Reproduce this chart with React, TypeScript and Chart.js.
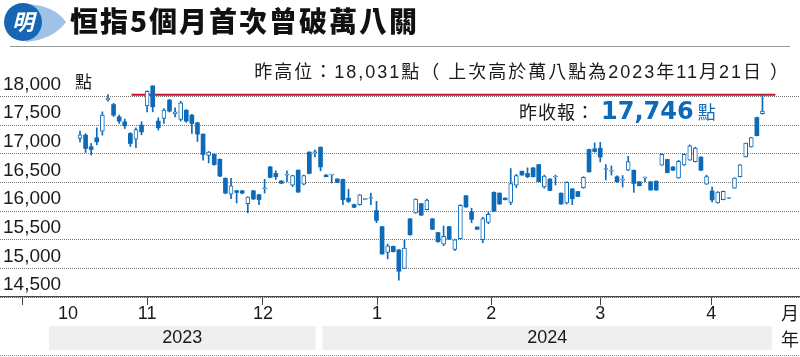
import React, { useEffect, useRef } from 'react';
import { Chart, registerables } from 'chart.js';

Chart.register(...registerables);

// Trading days from 30 Oct 2023 (index 0) to 29 Apr 2024 (index 122)
const opens = [
  17270, 17326, 17122, 17279, 17395, 17940, 17859, 17645, 17558, 17354,
  17256, 17500, 17836, 18185, 17570, 17615, 17936, 17700, 17600, 17761,
  17674, 17540, 17343, 16971, 16989, 16903, 16571, 16297, 16354, 16354,
  16130, 16354, 16285, 16390, 16771, 16657, 16525, 16625, 16450, 16714,
  16470, 17029, 17020, 17114, 16628, 16630, 16560, 16553, 16225, 16112,
  16112, 16205, 16220, 16009, 15728, 15280, 15384, 15321, 15000, 15865,
  15969, 16129, 16026, 15865, 15625, 15420, 15728, 15330, 15520, 16267,
  15986, 15722, 15500, 15800, 16327, 16312, 16226, 16150, 16450, 16696,
  16656, 16754, 16811, 16420, 16559, 16595, 16312, 16140, 16387, 16341,
  16410, 17074, 17086, 17097, 16725, 16695, 16599, 16538, 16712, 16712,
  16511, 16575, 16511, 16522, 16800, 16902, 16770, 16580, 16805, 16890,
  16860, 16942, 16470, 16350, 16140, 16200, 16220, 16400, 16600, 16945,
  17118, 17632, 17700,
];
const highs = [
  17396, 17350, 17180, 17453, 17732, 18033, 17880, 17674, 17605, 17370,
  17453, 17560, 18100, 18185, 17627, 17789, 17950, 17801, 17918, 17770,
  17690, 17550, 17350, 17040, 17000, 16910, 16580, 16571, 16360, 16360,
  16250, 16360, 16290, 16554, 16780, 16703, 16530, 16703, 16628, 16720,
  16628, 17035, 17069, 17120, 16635, 16640, 16565, 16560, 16381, 16120,
  16290, 16215, 16312, 16169, 15735, 15424, 15390, 15330, 15499, 15870,
  16215, 16135, 16209, 15870, 15630, 15739, 15735, 15510, 16112, 16275,
  16050, 15725, 15893, 15980, 16335, 16320, 16230, 16742, 16639, 16700,
  16754, 16760, 16815, 16628, 16565, 16628, 16318, 16513, 16392, 16345,
  16599, 17080, 17189, 17200, 16811, 16788, 16615, 16620, 16954, 16718,
  16515, 16597, 16515, 16525, 17000, 16905, 16775, 16885, 17000, 17155,
  17115, 16945, 16626, 16420, 16339, 16350, 16230, 16580, 16810, 17189,
  17287, 17640, 18031,
];
const lows = [
  17209, 17023, 16978, 17157, 17326, 17918, 17650, 17528, 17441, 17128,
  17105, 17330, 17732, 17732, 17413, 17528, 17730, 17645, 17570, 17550,
  17354, 17214, 16890, 16840, 16800, 16600, 16300, 16216, 16142, 16300,
  15970, 16200, 16113, 16314, 16580, 16554, 16480, 16514, 16428, 16325,
  16457, 16650, 16943, 16703, 16595, 16491, 16498, 16112, 16150, 16060,
  16105, 16200, 16112, 15797, 15245, 15166, 15285, 14794, 14994, 15580,
  15960, 15925, 16020, 15676, 15455, 15396, 15505, 15310, 15510, 16065,
  15797, 15680, 15448, 15778, 15990, 16118, 16195, 16112, 16410, 16625,
  16582, 16595, 16510, 16398, 16355, 16456, 16120, 16123, 16112, 16250,
  16398, 16680, 17029, 16857, 16542, 16628, 16500, 16420, 16705, 16327,
  16440, 16511, 16365, 16362, 16798, 16665, 16708, 16569, 16798, 16885,
  16856, 16708, 16465, 16160, 16137, 16195, 16218, 16396, 16597, 16942,
  17115, 17310, 17690,
];
const closes = [
  17330, 17092, 17075, 17209, 17674, 17975, 17674, 17570, 17488, 17180,
  17424, 17383, 18092, 17819, 17453, 17761, 17744, 17730, 17890, 17570,
  17528, 17343, 16988, 17029, 16811, 16611, 16314, 16440, 16325, 16314,
  16245, 16211, 16200, 16400, 16588, 16600, 16485, 16632, 16620, 16331,
  16620, 16657, 17035, 16771, 16600, 16638, 16502, 16198, 16169, 16066,
  16284, 16212, 16228, 15837, 15252, 15391, 15292, 14949, 15353, 15585,
  16209, 15928, 16190, 15682, 15464, 15560, 15510, 15500, 16100, 16072,
  15854, 15682, 15870, 15944, 15997, 16123, 16198, 16480, 16620, 16628,
  16599, 16599, 16513, 16610, 16358, 16602, 16123, 16500, 16215, 16255,
  16590, 16685, 17040, 16943, 16735, 16700, 16513, 16545, 16863, 16482,
  16442, 16585, 16367, 16367, 16990, 16672, 16712, 16870, 16990, 17139,
  17100, 16712, 16600, 16195, 16330, 16345, 16226, 16575, 16805, 17185,
  17284, 17316, 17746,
];

// month boundary tick positions (in trading-day index units)
const monthTicks = [0.9, 23.1, 42.3, 63.9, 83.1, 102.9, 122.8];
const monthLabels = ['10', '11', '12', '1', '2', '3', '4'];
const yearLabels = ['2023', '2024'];
const yTicks = [14500, 15000, 15500, 16000, 16500, 17000, 17500, 18000];
const prevHigh = 18031;
const prevHighFrom = 9.2;
const prevHighTo = 124.3;
const lastClose = '17,746';

const BLUE = '#0d6ab8';
const RED = '#c8102e';

const X_MIN = -14.3;
const X_MAX = 128.71;
const Y_MIN = 14500;
const Y_MAX = 19684;

const decor = {
  id: 'decor',
  afterDraw(chart: any) {
    const { ctx, chartArea } = chart;
    const x = chart.scales.x;
    const tp = monthTicks.map((v) => x.getPixelForValue(v));
    const b = chartArea.bottom;
    ctx.save();
    // year bands
    ctx.fillStyle = '#efefef';
    const bands = [
      [tp[0] - 36, tp[2] - 1],
      [tp[2] + 6, tp[6] + 5],
    ];
    bands.forEach(([l, r]) => ctx.fillRect(l, b + 29, r - l, 24));
    ctx.fillStyle = '#1a1a1a';
    ctx.font = '18px "Liberation Sans", "Noto Sans CJK TC", sans-serif';
    ctx.textAlign = 'center';
    ctx.textBaseline = 'middle';
    bands.forEach(([l, r], i) => ctx.fillText(yearLabels[i], (l + r) / 2, b + 41.5));
    monthLabels.forEach((lab, i) => {
      const cx = i === 0 ? tp[0] - 17 : (tp[i - 1] + tp[i]) / 2;
      ctx.fillText(lab, cx, b + 17);
    });
    ctx.font = '18px "Noto Sans CJK TC", sans-serif';
    ctx.fillText('月', 790, b + 16);
    ctx.fillText('年', 790, b + 42);
    // bottom dotted rule
    ctx.strokeStyle = '#888';
    ctx.lineWidth = 1;
    ctx.setLineDash([1, 1]);
    ctx.beginPath();
    ctx.moveTo(0, b + 58.5);
    ctx.lineTo(800, b + 58.5);
    ctx.stroke();
    ctx.restore();
  },
};

export default function App() {
  const ref = useRef<HTMLCanvasElement>(null);

  useEffect(() => {
    const bodyColors = opens.map((o, i) => (closes[i] < o ? BLUE : '#ffffff'));
    const bodyBorders = opens.map((o, i) => (closes[i] < o ? 0 : 1));
    const chart = new Chart(ref.current as HTMLCanvasElement, {
      type: 'bar',
      data: {
        datasets: [
          {
            type: 'bar',
            data: opens.map((o, i) => ({ x: i, y: [o, closes[i]] })) as any,
            backgroundColor: bodyColors,
            borderColor: BLUE,
            borderWidth: bodyBorders,
            borderSkipped: false,
            barThickness: 4,
            minBarLength: 1,
            grouped: false,
            order: 0,
          } as any,
          {
            type: 'bar',
            data: lows.map((l, i) => ({ x: i, y: [l, highs[i]] })) as any,
            backgroundColor: BLUE,
            borderWidth: 0,
            barThickness: 1,
            grouped: false,
            order: 1,
          } as any,
          {
            type: 'line',
            data: [
              { x: prevHighFrom, y: prevHigh },
              { x: prevHighTo, y: prevHigh },
            ] as any,
            borderColor: RED,
            borderWidth: 2,
            pointRadius: 0,
            order: 2,
          } as any,
        ],
      },
      options: {
        animation: false,
        responsive: false,
        maintainAspectRatio: false,
        layout: { padding: 0 },
        plugins: { legend: { display: false }, tooltip: { enabled: false } },
        scales: {
          x: {
            type: 'linear',
            min: X_MIN,
            max: X_MAX,
            offset: false,
            afterBuildTicks: (s: any) => {
              s.ticks = monthTicks.map((v) => ({ value: v }));
            },
            afterFit: (s: any) => {
              s.height = 60;
              s.paddingLeft = 0;
              s.paddingRight = 0;
              s.paddingTop = 0;
              s.paddingBottom = 0;
            },
            grid: { drawOnChartArea: false, drawTicks: true, tickLength: 8, color: '#444', lineWidth: 1 },
            border: { display: true, color: '#444', width: 1.3 },
            ticks: { display: false },
          },
          y: {
            type: 'linear',
            min: Y_MIN,
            max: Y_MAX,
            afterBuildTicks: (s: any) => {
              s.ticks = yTicks.map((v) => ({ value: v }));
            },
            afterFit: (s: any) => {
              s.width = 0;
              s.paddingTop = 0;
              s.paddingBottom = 0;
              s.paddingLeft = 0;
              s.paddingRight = 0;
            },
            ticks: {
              mirror: true,
              padding: 3,
              labelOffset: -12,
              color: '#1a1a1a',
              font: { family: '"Liberation Sans", Arial, sans-serif', size: 19 },
              callback: (v: any) => Number(v).toLocaleString('en-US'),
            },
            grid: { color: '#777', lineWidth: 1, drawTicks: false },
            border: { display: false, dash: [1, 1] },
          },
        },
      } as any,
      plugins: [decor],
    });
    return () => chart.destroy();
  }, []);

  const cjk = '"Liberation Sans", "Noto Sans CJK TC", sans-serif';

  return (
    <div style={{ position: 'fixed', left: 0, top: 0, width: 800, height: 357, background: '#fff', overflow: 'hidden' }}>
      <canvas ref={ref} width={800} height={357} style={{ position: 'absolute', left: 0, top: 0, width: 800, height: 357 }} />
      <svg width={66} height={44} style={{ position: 'absolute', left: 2, top: 1 }}>
        <path d="M24 3 Q52 4 64 21 Q52 38 24 41 Z" fill="#9fc3e6" />
        <circle cx={21} cy={21} r={19} fill="#1766b4" />
        <text x={21} y={29} fill="#fff" fontSize={22} fontWeight="bold" fontStyle="italic" textAnchor="middle" fontFamily='"Noto Sans CJK TC", sans-serif'>明</text>
      </svg>
      <div style={{ position: 'absolute', left: 70, top: 2, fontFamily: '"Noto Sans CJK TC", sans-serif', fontWeight: 900, fontSize: 28, lineHeight: '36px', letterSpacing: 2, color: '#111', whiteSpace: 'nowrap' }}>
        恒指5個月首次曾破萬八關
      </div>
      <div style={{ position: 'absolute', left: 10, top: 46, width: 780, height: 1, background: '#999' }} />
      <div style={{ position: 'absolute', right: 10, top: 60, fontFamily: cjk, fontSize: 18, lineHeight: '24px', letterSpacing: 2, color: '#1a1a1a', whiteSpace: 'nowrap' }}>
        昨高位：18,031點（ 上次高於萬八點為2023年11月21日 ）
      </div>
      <div style={{ position: 'absolute', left: 75, top: 72, fontFamily: cjk, fontSize: 17, lineHeight: '22px', color: '#1a1a1a' }}>點</div>
      <div style={{ position: 'absolute', left: 519, top: 96, whiteSpace: 'nowrap', lineHeight: '30px', color: '#1a1a1a' }}>
        <span style={{ fontFamily: cjk, fontSize: 18, letterSpacing: 1 }}>昨收報：</span>
        <span style={{ fontFamily: '"DejaVu Sans", sans-serif', fontWeight: 700, fontSize: 24, color: BLUE, marginLeft: 6 }}>{lastClose}</span>
        <span style={{ fontFamily: cjk, fontSize: 18, color: BLUE, marginLeft: 4 }}>點</span>
      </div>
    </div>
  );
}
